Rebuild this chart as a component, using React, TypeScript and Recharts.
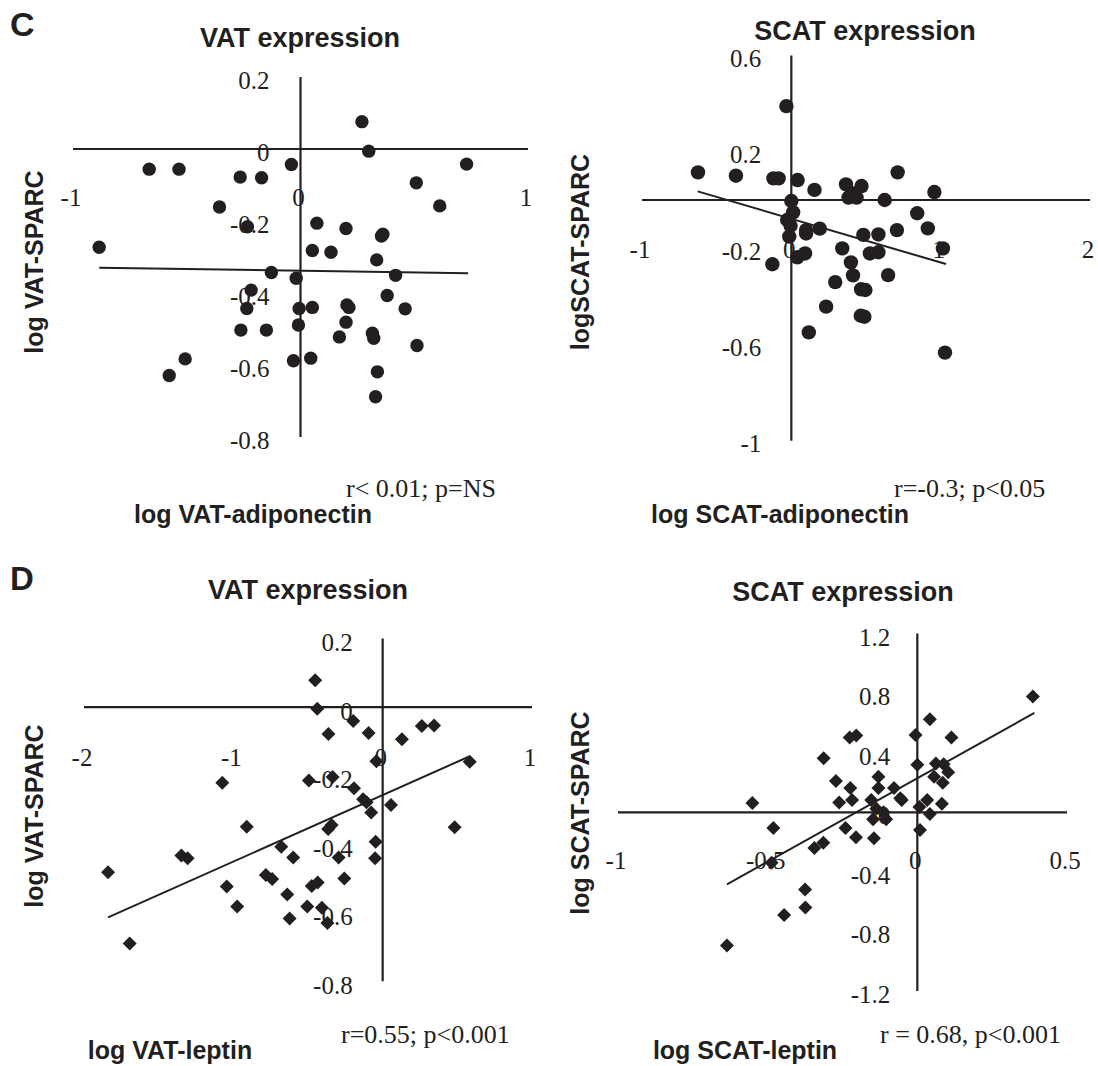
import React from "react";
import {
  ScatterChart,
  Scatter,
  XAxis,
  YAxis,
  ReferenceLine,
  ReferenceDot,
} from "recharts";

const INK = "#231f20";
const SERIF = "Liberation Serif, Times New Roman, serif";
const SANS = "Liberation Sans, Arial, sans-serif";

// C, VAT: log adiponectin (x) vs log SPARC (y)
const vatAdipoX = [
  0.27, 0.3, 0.73, -0.665, -0.534, -0.04, -0.265, -0.171, 0.509, -0.356,
  0.612, 0.072, -0.233, 0.2, 0.362, 0.356, -0.885, 0.052, 0.134, 0.335,
  -0.128, 0.418, -0.019, -0.217, 0.381, -0.236, -0.006, 0.052, 0.204, 0.213,
  0.46, -0.009, 0.2, -0.262, -0.15, 0.171, 0.316, 0.322, 0.512, -0.507,
  -0.031, 0.045, -0.577, 0.338, 0.33,
];
const vatAdipoY = [
  0.076, -0.006, -0.042, -0.056, -0.056, -0.043, -0.078, -0.08, -0.094, -0.161,
  -0.158, -0.206, -0.216, -0.221, -0.237, -0.242, -0.273, -0.282, -0.287, -0.308,
  -0.343, -0.351, -0.359, -0.392, -0.407, -0.443, -0.443, -0.44, -0.433, -0.44,
  -0.444, -0.489, -0.481, -0.503, -0.503, -0.522, -0.512, -0.526, -0.546, -0.583,
  -0.588, -0.581, -0.629, -0.619, -0.688,
];
const vatAdipoTrendX = [-0.885, 0.737];
const vatAdipoTrendY = [-0.33, -0.345];
const vatAdipoXTicks = [-1, 0, 1];
const vatAdipoYTicks = [0.2, 0, -0.2, -0.4, -0.6, -0.8];

// C, SCAT: log adiponectin (x) vs log SPARC (y)
const scatAdipoX = [
  -0.033, -0.625, -0.371, -0.12, -0.085, 0.042, 0.155, 0.366, 0.47, 0.712,
  0.958, 0.383, 0.437, 0.406, 0.625, 0, 0.012, -0.028, -0.005, -0.014,
  0.099, 0.099, 0.19, 0.843, 0.914, 0.707, 0.482, 0.583, 0.341, 0.526,
  0.583, 1.015, 0.092, 0.04, -0.127, 0.399, 0.413, 0.648, 0.294, 0.467,
  0.496, 0.233, 0.465, 0.489, 0.117, 1.029,
];
const scatAdipoY = [
  0.39, 0.115, 0.101, 0.09, 0.09, 0.083, 0.042, 0.065, 0.058, 0.115,
  0.033, 0.01, 0.01, 0.028, 0, -0.004, -0.051, -0.083, -0.107, -0.152,
  -0.125, -0.139, -0.119, -0.055, -0.118, -0.125, -0.145, -0.143, -0.201, -0.222,
  -0.217, -0.201, -0.222, -0.238, -0.267, -0.259, -0.313, -0.312, -0.341, -0.371,
  -0.374, -0.443, -0.481, -0.485, -0.55, -0.634,
];
const scatAdipoTrendX = [-0.627, 1.036];
const scatAdipoTrendY = [0.036, -0.266];
const scatAdipoXTicks = [-1, 0, 1, 2];
const scatAdipoYTicks = [0.6, 0.2, -0.2, -0.6, -1];

// D, VAT: log leptin (x) vs log SPARC (y)
const vatLepX = [
  -0.452, -0.438, -0.197, -0.363, -0.094, 0.262, 0.344, 0.129, -0.042, 0.583,
  -1.074, -0.494, -0.335, -0.192, -0.131, -0.108, 0.056, -0.077, -0.91, -0.342,
  -0.365, 0.482, -0.047, -0.679, -1.348, -1.306, -0.599, -0.295, -0.051, -1.839,
  -0.782, -0.74, -0.257, -1.044, -0.475, -0.435, -0.639, -0.974, -0.505, -0.407,
  -0.623, -0.37, -1.694,
];
const vatLepY = [
  0.078, -0.005, -0.041, -0.079, -0.076, -0.055, -0.054, -0.094, -0.158, -0.16,
  -0.221, -0.214, -0.204, -0.237, -0.269, -0.278, -0.286, -0.308, -0.349, -0.344,
  -0.356, -0.351, -0.393, -0.408, -0.433, -0.441, -0.439, -0.439, -0.441, -0.482,
  -0.49, -0.502, -0.5, -0.524, -0.522, -0.512, -0.547, -0.582, -0.582, -0.586,
  -0.617, -0.63, -0.69,
];
const vatLepTrendX = [-1.839, 0.576];
const vatLepTrendY = [-0.614, -0.145];
const vatLepXTicks = [-2, -1, 0, 1];
const vatLepYTicks = [0.2, 0, -0.2, -0.4, -0.6, -0.8];

// D, SCAT: log leptin (x) vs log SPARC (y)
const scatLepX = [
  0.386, 0.042, -0.226, -0.204, -0.006, 0.114, -0.313, 0.0, 0.062, 0.088,
  0.103, 0.056, 0.085, -0.13, -0.272, -0.224, -0.13, -0.078, -0.057, -0.052,
  -0.218, -0.261, -0.154, 0.033, 0.082, 0.007, -0.551, -0.137, -0.113, -0.104,
  -0.148, 0.042, -0.481, -0.24, -0.205, -0.145, 0.009, -0.314, -0.344, -0.487,
  -0.375, -0.374, -0.445, -0.636,
];
const scatLepY = [
  0.777, 0.625, 0.503, 0.515, 0.519, 0.503, 0.363, 0.32, 0.327, 0.323,
  0.269, 0.239, 0.199, 0.239, 0.211, 0.164, 0.164, 0.164, 0.094, 0.082,
  0.082, 0.065, 0.082, 0.082, 0.058, 0.035, 0.063, 0.023, 0.0, -0.047,
  -0.047, -0.012, -0.105, -0.105, -0.168, -0.175, -0.119, -0.204, -0.239, -0.339,
  -0.519, -0.639, -0.69, -0.894,
];
const scatLepTrendX = [-0.636, 0.391];
const scatLepTrendY = [-0.484, 0.667];
const scatLepXTicks = [-1, -0.5, 0, 0.5];
const scatLepYTicks = [1.2, 0.8, 0.4, 0, -0.4, -0.8, -1.2];

const zip = (xs: number[], ys: number[]) => xs.map((x, i) => ({ x, y: ys[i] }));

// tick text hung off a zero-radius ReferenceDot, so it follows the scales
const TickText = ({
  viewBox,
  text,
  dx = 0,
  dy = 0,
  anchor = "middle",
}: {
  viewBox?: { x: number; y: number };
  text: string;
  dx?: number;
  dy?: number;
  anchor?: "start" | "middle" | "end";
}) => {
  if (!viewBox) return null;
  return (
    <text
      x={viewBox.x + dx}
      y={viewBox.y + dy}
      textAnchor={anchor}
      fill={INK}
      fontFamily={SERIF}
      fontSize={25}
      fontWeight={400}
    >
      {text}
    </text>
  );
};

const circle = (r: number) => (p: any) => (
  <circle cx={p.cx} cy={p.cy} r={r} fill={INK} />
);
const diamond = (h: number) => (p: any) => (
  <polygon
    points={`${p.cx},${p.cy - h} ${p.cx + h},${p.cy} ${p.cx},${p.cy + h} ${p.cx - h},${p.cy}`}
    fill={INK}
  />
);

type PanelProps = {
  left: number;
  top: number;
  margin: { top: number; right: number; bottom: number; left: number };
  xDomain: [number, number];
  yDomain: [number, number];
  xTicks: number[];
  yTicks: number[];
  points: { x: number; y: number }[];
  trendX: number[];
  trendY: number[];
  shape: (p: any) => React.ReactElement;
  xTickDy: number;
  yTickDx: number;
  yTickDy: number;
};

const Panel = ({
  left,
  top,
  margin,
  xDomain,
  yDomain,
  xTicks,
  yTicks,
  points,
  trendX,
  trendY,
  shape,
  xTickDy,
  yTickDx,
  yTickDy,
}: PanelProps) => (
  <div style={{ position: "absolute", left, top }}>
    <ScatterChart width={549} height={533} margin={margin}>
      <XAxis type="number" dataKey="x" domain={xDomain} hide allowDataOverflow />
      <YAxis type="number" dataKey="y" domain={yDomain} hide allowDataOverflow />
      {xTicks.map((t) => (
        <ReferenceDot
          key={"xt" + t}
          x={t}
          y={0}
          r={0}
          fill="none"
          stroke="none"
          ifOverflow="visible"
          label={<TickText text={String(t)} dx={-2} dy={xTickDy} anchor="middle" />}
        />
      ))}
      {yTicks.map((t) => (
        <ReferenceDot
          key={"yt" + t}
          x={0}
          y={t}
          r={0}
          fill="none"
          stroke="none"
          ifOverflow="visible"
          label={<TickText text={String(t)} dx={yTickDx} dy={yTickDy} anchor="end" />}
        />
      ))}
      <ReferenceLine y={0} stroke={INK} strokeWidth={2.2} />
      <ReferenceLine x={0} stroke={INK} strokeWidth={2.2} />
      <ReferenceLine
        segment={[
          { x: trendX[0], y: trendY[0] },
          { x: trendX[1], y: trendY[1] },
        ]}
        stroke={INK}
        strokeWidth={2}
      />
      <Scatter data={points} shape={shape} isAnimationActive={false} />
    </ScatterChart>
  </div>
);

const boldText = { fill: INK, fontFamily: SANS, fontWeight: 700, fontSize: 25 };
const titleText = { ...boldText, fontSize: 27 };
const rText = { fill: INK, fontFamily: SERIF, fontSize: 26 };

export default function App() {
  return (
    <div
      style={{
        position: "absolute",
        left: 0,
        top: 0,
        width: 1098,
        height: 1066,
        background: "#fff",
        overflow: "hidden",
      }}
    >
      <Panel
        left={0}
        top={0}
        margin={{ top: 77, right: 21, bottom: 96, left: 73 }}
        xDomain={[-1, 1]}
        yDomain={[-0.8, 0.2]}
        xTicks={vatAdipoXTicks}
        yTicks={vatAdipoYTicks}
        points={zip(vatAdipoX, vatAdipoY)}
        trendX={vatAdipoTrendX}
        trendY={vatAdipoTrendY}
        shape={circle(6.7)}
        xTickDy={57}
        yTickDx={-31}
        yTickDy={11.5}
      />
      <Panel
        left={549}
        top={0}
        margin={{ top: 55.6, right: 8, bottom: 92.3, left: 93 }}
        xDomain={[-1, 2]}
        yDomain={[-1, 0.6]}
        xTicks={scatAdipoXTicks}
        yTicks={scatAdipoYTicks}
        points={zip(scatAdipoX, scatAdipoY)}
        trendX={scatAdipoTrendX}
        trendY={scatAdipoTrendY}
        shape={circle(7.2)}
        xTickDy={58}
        yTickDx={-30}
        yTickDy={11.5}
      />
      <Panel
        left={0}
        top={533}
        margin={{ top: 105.5, right: 17, bottom: 84.8, left: 84 }}
        xDomain={[-2, 1]}
        yDomain={[-0.8, 0.2]}
        xTicks={vatLepXTicks}
        yTicks={vatLepYTicks}
        points={zip(vatLepX, vatLepY)}
        trendX={vatLepTrendX}
        trendY={vatLepTrendY}
        shape={diamond(7)}
        xTickDy={59}
        yTickDx={-30}
        yTickDy={12.5}
      />
      <Panel
        left={549}
        top={533}
        margin={{ top: 100.6, right: 31, bottom: 75, left: 69 }}
        xDomain={[-1, 0.5]}
        yDomain={[-1.2, 1.2]}
        xTicks={scatLepXTicks}
        yTicks={scatLepYTicks}
        points={zip(scatLepX, scatLepY)}
        trendX={scatLepTrendX}
        trendY={scatLepTrendY}
        shape={diamond(7)}
        xTickDy={57}
        yTickDx={-27}
        yTickDy={12}
      />
      <svg
        width={1098}
        height={1066}
        style={{ position: "absolute", left: 0, top: 0, pointerEvents: "none" }}
      >
        <text x={10} y={35.5} {...boldText} fontSize={34}>C</text>
        <text x={10} y={590} {...boldText} fontSize={33}>D</text>

        <text x={300} y={47} textAnchor="middle" {...titleText}>VAT expression</text>
        <text x={865} y={40} textAnchor="middle" {...titleText}>SCAT expression</text>
        <text x={308} y={599} textAnchor="middle" {...titleText}>VAT expression</text>
        <text x={843} y={601} textAnchor="middle" {...titleText}>SCAT expression</text>

        <text x={43} y={262} textAnchor="middle" transform="rotate(-90 43 262)" {...boldText}>log VAT-SPARC</text>
        <text x={589} y={252} textAnchor="middle" transform="rotate(-90 589 252)" {...boldText}>logSCAT-SPARC</text>
        <text x={43} y={816} textAnchor="middle" transform="rotate(-90 43 816)" {...boldText}>log VAT-SPARC</text>
        <text x={589} y={813} textAnchor="middle" transform="rotate(-90 589 813)" {...boldText}>log SCAT-SPARC</text>

        <text x={253} y={523} textAnchor="middle" {...boldText}>log VAT-adiponectin</text>
        <text x={780} y={523} textAnchor="middle" {...boldText}>log SCAT-adiponectin</text>
        <text x={170} y={1059} textAnchor="middle" {...boldText}>log VAT-leptin</text>
        <text x={745} y={1059} textAnchor="middle" {...boldText}>log SCAT-leptin</text>

        <text x={346} y={497} {...rText}>r&lt; 0.01; p=NS</text>
        <text x={894} y={497} {...rText}>r=-0.3; p&lt;0.05</text>
        <text x={341} y={1043} {...rText}>r=0.55; p&lt;0.001</text>
        <text x={880} y={1043} {...rText}>r = 0.68, p&lt;0.001</text>
      </svg>
    </div>
  );
}
